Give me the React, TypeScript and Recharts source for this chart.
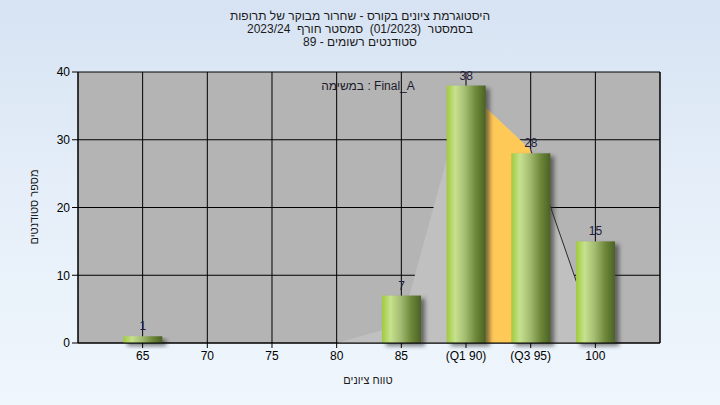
import React from 'react';
import { ComposedChart, Bar, Area, XAxis, YAxis, CartesianGrid, LabelList } from 'recharts';

const categories = ['65', '70', '75', '80', '85', '(Q1 90)', '(Q3 95)', '100'];
const counts = [1, 0, 0, 0, 7, 38, 28, 15];
const curve = [0, 0, 0, 0, 2.7, 37.5, 28.5, 1];
const quartileBand: (number | null)[] = [null, null, null, null, null, 37.5, 28.5, null];
const curveEdge: (number | null)[] = [null, null, null, null, null, null, 28.5, 1];
const yTicks = [0, 10, 20, 30, 40];

const titleLines = [
  'היסטוגרמת ציונים בקורס - שחרור מבוקר של תרופות',
  'בסמסטר  (01/2023)  סמסטר חורף  2023/24',
  'סטודנטים רשומים - 89',
];
const annotation = 'במשימה : Final_A';
const yLabel = 'מספר סטודנטים';
const xLabel = 'טווח ציונים';

const data = categories.map((c, i) => ({
  label: c,
  count: counts[i],
  curve: curve[i],
  band: quartileBand[i],
  edge: curveEdge[i],
}));

const FONT = '"Liberation Sans", "DejaVu Sans", Arial, sans-serif';

const GradBar = (props: any) => {
  const { x, y, width, height } = props;
  if (!height || height <= 0) return <g />;
  return (
    <g>
      <rect x={x + 4} y={y + 3} width={width} height={height} fill="#2a2a2a" opacity={0.6} filter="url(#barShadow)" />
      <rect x={x} y={y} width={width} height={height} fill="url(#barGrad)" />
    </g>
  );
};

export default function App() {
  return (
    <div
      style={{
        position: 'absolute',
        left: 0,
        top: 0,
        width: 720,
        height: 405,
        background: 'linear-gradient(to bottom, #d7e3f3 0%, #e6eff9 50%, #eff6fc 100%)',
        fontFamily: FONT,
        overflow: 'hidden',
      }}
    >
      <div
        dir="rtl"
        style={{
          position: 'absolute',
          left: 0,
          top: 10,
          width: 720,
          textAlign: 'center',
          fontSize: 12,
          lineHeight: '13px',
          color: '#1a1a1a',
        }}
      >
        {titleLines.map((t, i) => (
          <div key={i} style={{ whiteSpace: 'pre' }}>{t}</div>
        ))}
      </div>
      <ComposedChart
        width={720}
        height={405}
        data={data}
        margin={{ top: 72, right: 20, bottom: 32, left: 38 }}
        style={{ position: 'absolute', left: 0, top: 0 }}
      >
        <defs>
          <linearGradient id="barGrad" x1="0" y1="0" x2="1" y2="0">
            <stop offset="0%" stopColor="#9fcb3e" />
            <stop offset="22%" stopColor="#c7e18e" />
            <stop offset="48%" stopColor="#a3bb70" />
            <stop offset="75%" stopColor="#6d873a" />
            <stop offset="100%" stopColor="#4b6224" />
          </linearGradient>
          <filter id="barShadow" x="-30%" y="-30%" width="160%" height="160%">
            <feGaussianBlur stdDeviation="2" />
          </filter>
        </defs>
        <CartesianGrid stroke="#000" strokeWidth={1} fill="#b4b4b4" fillOpacity={1} />
        <XAxis
          dataKey="label"
          type="category"
          padding={{ left: 32.3, right: 32.3 }}
          height={30}
          tickSize={5}
          tickMargin={3}
          stroke="#000"
          tick={{ fill: '#000', fontSize: 12, fontFamily: FONT }}
          interval={0}
        />
        <YAxis
          domain={[0, 40]}
          ticks={yTicks}
          width={40}
          tickSize={6}
          tickMargin={2}
          stroke="#000"
          tick={{ fill: '#000', fontSize: 12, fontFamily: FONT }}
        />
        <YAxis
          yAxisId="r"
          orientation="right"
          domain={[0, 40]}
          ticks={yTicks}
          width={40}
          tickSize={6}
          tickMargin={2}
          stroke="#000"
          tick={{ fill: '#000', fontSize: 12, fontFamily: FONT }}
        />
        <Area
          dataKey="curve"
          type="linear"
          fill="#c0c0c0"
          fillOpacity={1}
          stroke="none"
          isAnimationActive={false}
          dot={false}
          activeDot={false}
        />
        <Area
          dataKey="band"
          type="linear"
          fill="#ffc957"
          fillOpacity={1}
          stroke="none"
          isAnimationActive={false}
          dot={false}
          activeDot={false}
        />
        <Area
          dataKey="edge"
          type="linear"
          fill="none"
          fillOpacity={0}
          stroke="#2a2a2a"
          strokeWidth={1}
          isAnimationActive={false}
          dot={false}
          activeDot={false}
        />
        <Bar dataKey="count" barSize={39} shape={GradBar} isAnimationActive={false}>
          <LabelList
            dataKey="count"
            position="top"
            offset={6}
            fill="#1f1f3f"
            fontSize={12}
            fontFamily={FONT}
            formatter={(v: any) => (v === 0 ? '' : v)}
          />
        </Bar>
      </ComposedChart>
      <div
        style={{
          position: 'absolute',
          left: 268,
          top: 79,
          width: 200,
          textAlign: 'center',
          fontSize: 12,
          lineHeight: '14px',
          color: '#1a1a2a',
        }}
      >
        {annotation}
      </div>
      <div
        dir="rtl"
        style={{
          position: 'absolute',
          left: 34 - 60,
          top: 207 - 7,
          width: 120,
          height: 14,
          textAlign: 'center',
          fontSize: 11,
          lineHeight: '14px',
          color: '#1a1a1a',
          transform: 'rotate(-90deg)',
          transformOrigin: '60px 7px',
        }}
      >
        {yLabel}
      </div>
      <div
        dir="rtl"
        style={{
          position: 'absolute',
          left: 268,
          top: 373,
          width: 200,
          textAlign: 'center',
          fontSize: 11,
          lineHeight: '14px',
          color: '#1a1a1a',
        }}
      >
        {xLabel}
      </div>
    </div>
  );
}
